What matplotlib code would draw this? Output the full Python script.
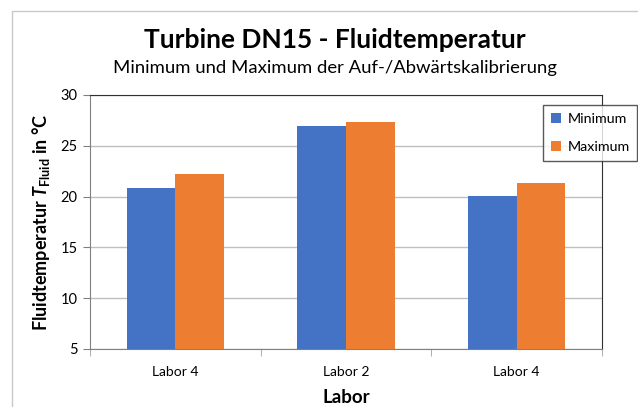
import numpy as np
import matplotlib
matplotlib.use("Agg")
import matplotlib.pyplot as plt
from matplotlib.patches import Rectangle

# data
labors = ["Labor 4", "Labor 2", "Labor 4"]
t_min = [20.8, 26.9, 20.1]
t_max = [22.2, 27.3, 21.3]

blue = "#4472C4"
orange = "#ED7D31"

plt.rcParams["font.family"] = ["Lato", "DejaVu Sans"]
plt.rcParams["mathtext.fontset"] = "custom"
plt.rcParams["mathtext.rm"] = "Lato:bold"
plt.rcParams["mathtext.it"] = "Lato:bold:italic"
plt.rcParams["mathtext.bf"] = "Lato:bold"

fig = plt.figure(figsize=(6.38, 4.07), dpi=100)
ax = fig.add_axes([90 / 638, 58 / 407, 512 / 638, 254 / 407])

# outer chart border (cropped)
fig.patches.append(Rectangle((12 / 638, -0.1), 1.2, (407 - 11) / 407 + 0.1,
                             transform=fig.transFigure, fill=False,
                             edgecolor="#C8C8C8", lw=1.0))

x = np.arange(len(labors))
w = 0.285
ax.bar(x - w / 2, t_min, w, bottom=0, color=blue, label="Minimum", zorder=3)
ax.bar(x + w / 2, t_max, w, bottom=0, color=orange, label="Maximum", zorder=3)

ax.set_xlim(-0.5, len(labors) - 0.5)
ax.set_ylim(5, 30)
ax.set_yticks(range(5, 31, 5))
ax.grid(axis="y", color="#BFBFBF", lw=1.0, zorder=0)

ax.set_xticks(x)
ax.set_xticklabels(labors, fontsize=10)
ax.set_xticks(np.arange(-0.5, len(labors), 1), minor=True)
ax.tick_params(axis="x", which="major", length=0, pad=12)
ax.tick_params(axis="x", which="minor", length=5, color="#A0A0A0")
ax.tick_params(axis="y", length=5, color="#808080", labelsize=10.5, pad=4)

for s in ["left", "bottom"]:
    ax.spines[s].set_color("#808080")
for s in ["top", "right"]:
    ax.spines[s].set_color("#303030")

ax.set_xlabel("Labor", fontsize=13.5, fontweight="bold", labelpad=8)
ax.set_ylabel(r"Fluidtemperatur $T_{\mathrm{Fluid}}$ in °C", fontsize=13,
              fontweight="bold", labelpad=6)

fig.text(335 / 638, 1 - 40 / 407, "Turbine DN15 - Fluidtemperatur",
         ha="center", va="center", fontsize=19, fontweight="bold")
fig.text(335 / 638, 1 - 68 / 407, "Minimum und Maximum der Auf-/Abwärtskalibrierung",
         ha="center", va="center", fontsize=13.3)

leg = ax.legend(loc="upper left", bbox_to_anchor=(543 / 638, 1 - 105 / 407),
                bbox_transform=fig.transFigure, fontsize=10.3, frameon=True,
                fancybox=False, handlelength=0.7, handleheight=0.7,
                labelspacing=1.15, borderpad=0.55, handletextpad=0.45,
                borderaxespad=0)
leg.get_frame().set_edgecolor("#303030")
leg.get_frame().set_linewidth(1.0)

fig.savefig("out.png", dpi=100)
